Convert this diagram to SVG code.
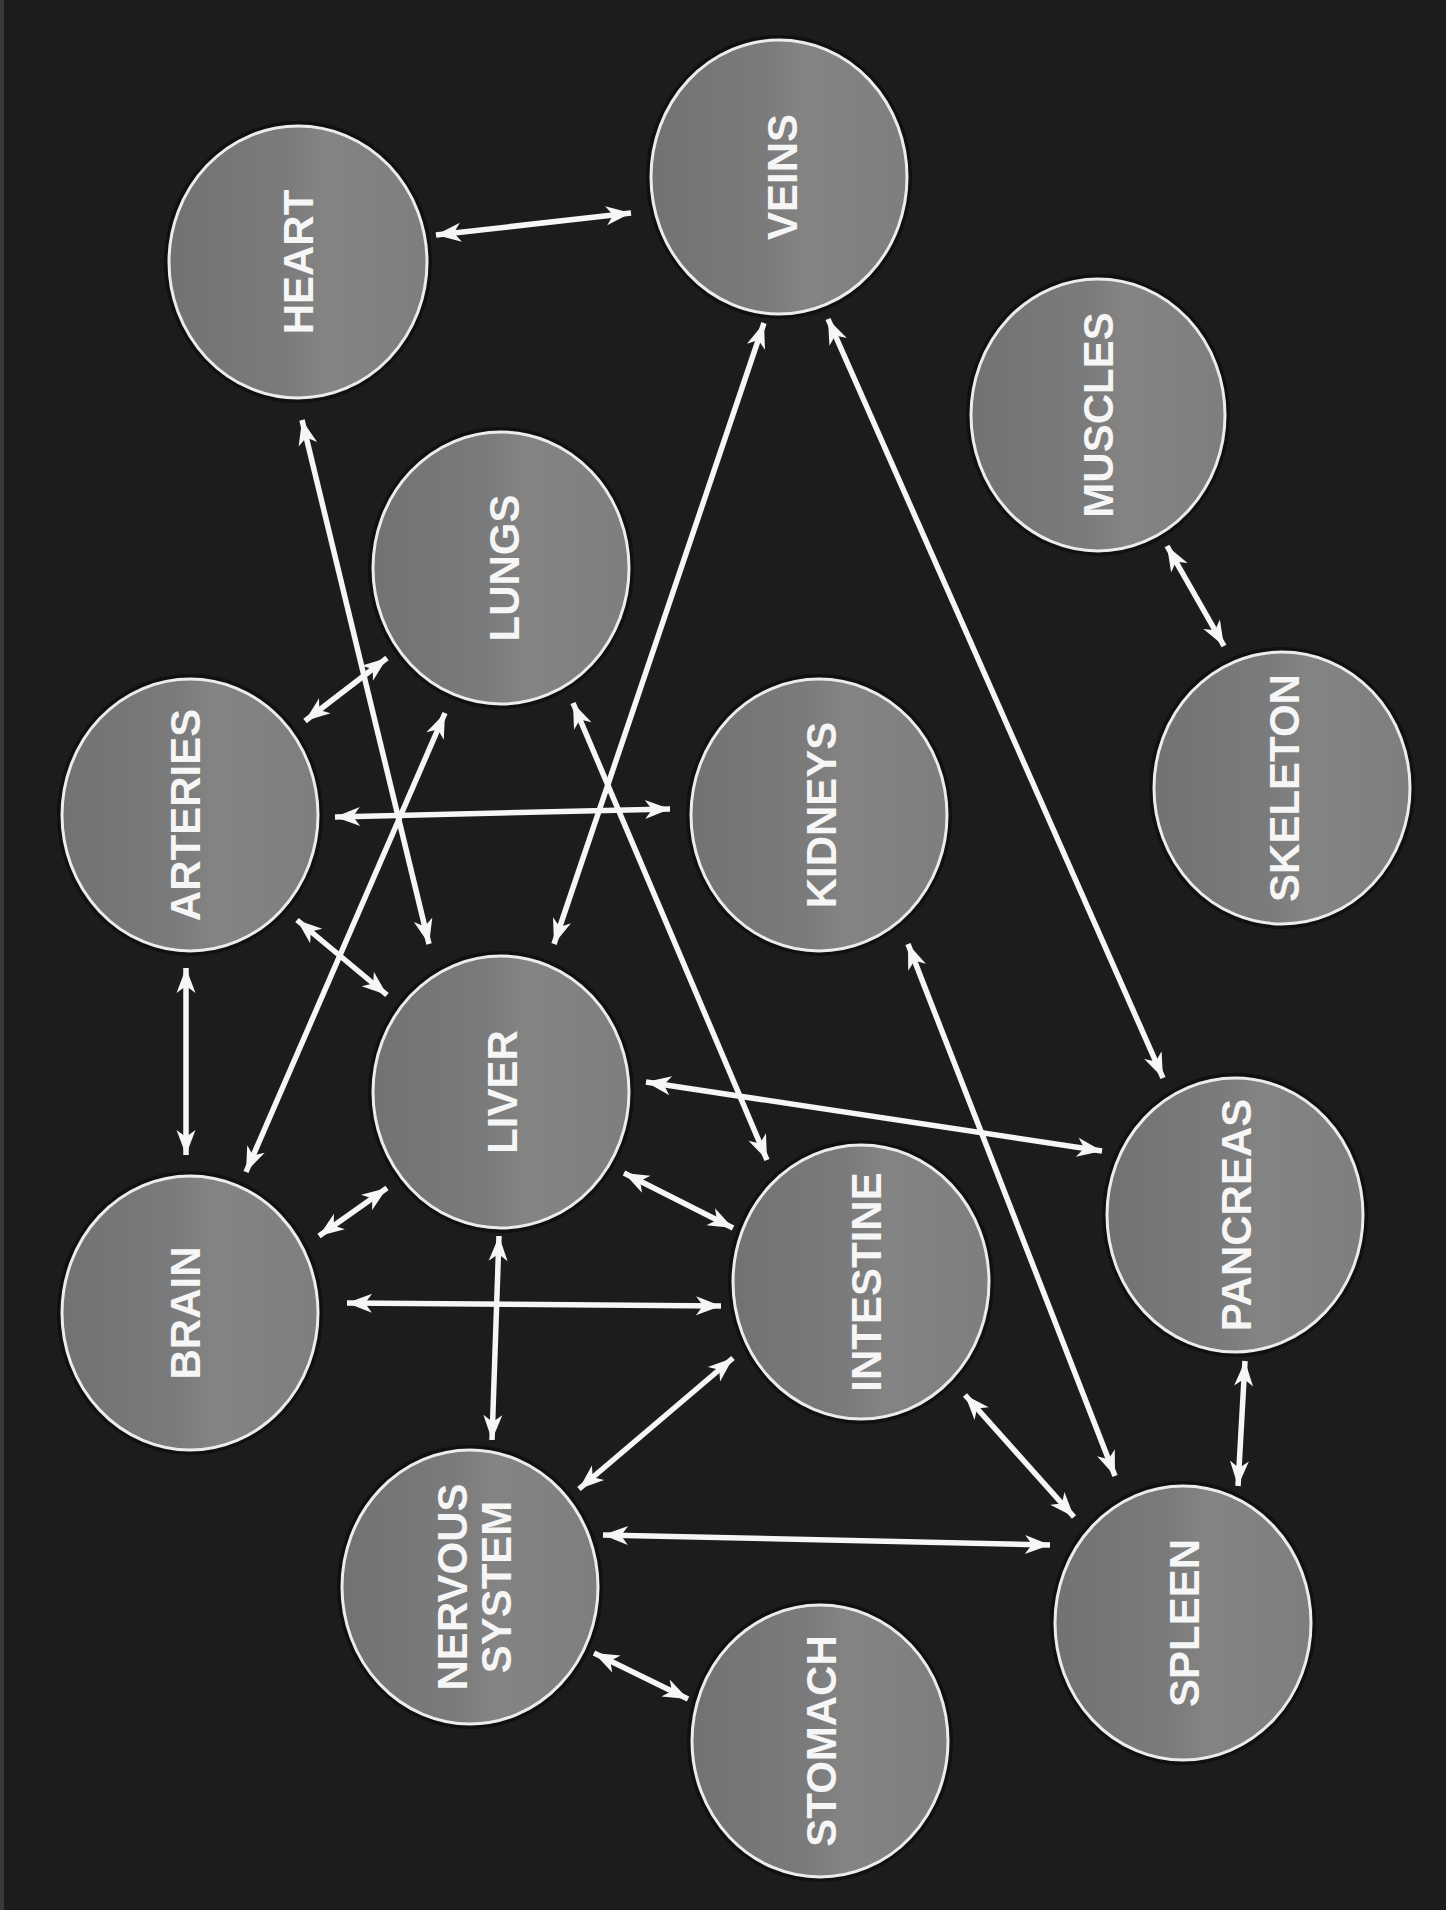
<svg xmlns="http://www.w3.org/2000/svg" width="1446" height="1910" viewBox="0 0 1446 1910">
<defs>
<linearGradient id="g" x1="0" y1="0" x2="1" y2="0">
<stop offset="0" stop-color="#727272"/>
<stop offset="0.45" stop-color="#7b7b7b"/>
<stop offset="0.6" stop-color="#848484"/>
<stop offset="1" stop-color="#7e7e7e"/>
</linearGradient>
<marker id="ah" viewBox="-26 -11 28 22" refX="0" refY="0" markerWidth="28" markerHeight="22" markerUnits="userSpaceOnUse" orient="auto-start-reverse">
<path d="M0,0 L-25,-9.5 L-18,0 L-25,9.5 Z" fill="#f6f6f6"/>
</marker>
</defs>
<style>
.halo{fill:none;stroke:#0e0e0e;stroke-width:10;opacity:0.85}
.node{fill:url(#g);stroke:#ececec;stroke-width:3}
.lbl{font-family:"Liberation Sans",Arial,sans-serif;font-weight:bold;font-size:42px;fill:#f6f6f6;text-anchor:middle}
.c{stroke:#f6f6f6;stroke-width:5.5;fill:none;marker-start:url(#ah);marker-end:url(#ah)}
</style>
<rect x="0" y="0" width="1446" height="1910" fill="#1c1c1c"/>
<rect x="0" y="0" width="4" height="1910" fill="#3a3a3a"/>

<g id="connectors">
<line class="c" x1="436" y1="235" x2="631" y2="213"/>
<line class="c" x1="302" y1="420" x2="429" y2="944"/>
<line class="c" x1="764" y1="323" x2="554" y2="944"/>
<line class="c" x1="828" y1="319" x2="1163" y2="1078"/>
<line class="c" x1="1167" y1="546" x2="1224" y2="646"/>
<line class="c" x1="305" y1="721" x2="387" y2="658"/>
<line class="c" x1="335" y1="817" x2="670" y2="809"/>
<line class="c" x1="297" y1="920" x2="387" y2="995"/>
<line class="c" x1="186" y1="968" x2="186" y2="1155"/>
<line class="c" x1="445" y1="713" x2="246" y2="1172"/>
<line class="c" x1="573" y1="703" x2="767" y2="1160"/>
<line class="c" x1="646" y1="1082" x2="1102" y2="1151"/>
<line class="c" x1="387" y1="1188" x2="319" y2="1236"/>
<line class="c" x1="624" y1="1173" x2="733" y2="1228"/>
<line class="c" x1="499" y1="1236" x2="492" y2="1440"/>
<line class="c" x1="347" y1="1303" x2="721" y2="1306"/>
<line class="c" x1="908" y1="944" x2="1115" y2="1476"/>
<line class="c" x1="733" y1="1358" x2="579" y2="1489"/>
<line class="c" x1="965" y1="1395" x2="1074" y2="1517"/>
<line class="c" x1="1245" y1="1361" x2="1238" y2="1486"/>
<line class="c" x1="603" y1="1535" x2="1050" y2="1545"/>
<line class="c" x1="594" y1="1653" x2="688" y2="1699"/>
</g>

<g id="heart"><ellipse class="halo" cx="298" cy="262" rx="129" ry="136"/><ellipse class="node" cx="298" cy="262" rx="129" ry="136"/><text class="lbl" transform="translate(313,262) rotate(-90)">HEART</text></g>
<g id="veins"><ellipse class="halo" cx="779" cy="177" rx="128" ry="137"/><ellipse class="node" cx="779" cy="177" rx="128" ry="137"/><text class="lbl" transform="translate(797,177) rotate(-90)">VEINS</text></g>
<g id="lungs"><ellipse class="halo" cx="501" cy="568" rx="128" ry="136"/><ellipse class="node" cx="501" cy="568" rx="128" ry="136"/><text class="lbl" transform="translate(519,568) rotate(-90)">LUNGS</text></g>
<g id="muscles"><ellipse class="halo" cx="1098" cy="415" rx="127" ry="136"/><ellipse class="node" cx="1098" cy="415" rx="127" ry="136"/><text class="lbl" transform="translate(1113,415) rotate(-90)">MUSCLES</text></g>
<g id="arteries"><ellipse class="halo" cx="190" cy="815" rx="128" ry="136"/><ellipse class="node" cx="190" cy="815" rx="128" ry="136"/><text class="lbl" transform="translate(200,815) rotate(-90)">ARTERIES</text></g>
<g id="kidneys"><ellipse class="halo" cx="819" cy="815" rx="128" ry="136"/><ellipse class="node" cx="819" cy="815" rx="128" ry="136"/><text class="lbl" transform="translate(836,815) rotate(-90)">KIDNEYS</text></g>
<g id="skeleton"><ellipse class="halo" cx="1282" cy="788" rx="128" ry="136"/><ellipse class="node" cx="1282" cy="788" rx="128" ry="136"/><text class="lbl" transform="translate(1299,788) rotate(-90)">SKELETON</text></g>
<g id="liver"><ellipse class="halo" cx="501" cy="1092" rx="128" ry="136"/><ellipse class="node" cx="501" cy="1092" rx="128" ry="136"/><text class="lbl" transform="translate(517,1092) rotate(-90)">LIVER</text></g>
<g id="intestine"><ellipse class="halo" cx="861" cy="1282" rx="128" ry="137"/><ellipse class="node" cx="861" cy="1282" rx="128" ry="137"/><text class="lbl" transform="translate(881,1282) rotate(-90)">INTESTINE</text></g>
<g id="pancreas"><ellipse class="halo" cx="1235" cy="1215" rx="128" ry="137"/><ellipse class="node" cx="1235" cy="1215" rx="128" ry="137"/><text class="lbl" transform="translate(1251,1215) rotate(-90)">PANCREAS</text></g>
<g id="brain"><ellipse class="halo" cx="190" cy="1313" rx="128" ry="137"/><ellipse class="node" cx="190" cy="1313" rx="128" ry="137"/><text class="lbl" transform="translate(200,1313) rotate(-90)">BRAIN</text></g>
<g id="nervous-system"><ellipse class="halo" cx="470" cy="1587" rx="128" ry="137"/><ellipse class="node" cx="470" cy="1587" rx="128" ry="137"/><text class="lbl" transform="translate(467,1587) rotate(-90)">NERVOUS</text><text class="lbl" transform="translate(511,1587) rotate(-90)">SYSTEM</text></g>
<g id="spleen"><ellipse class="halo" cx="1183" cy="1623" rx="128" ry="137"/><ellipse class="node" cx="1183" cy="1623" rx="128" ry="137"/><text class="lbl" transform="translate(1199,1623) rotate(-90)">SPLEEN</text></g>
<g id="stomach"><ellipse class="halo" cx="820" cy="1741" rx="128" ry="136"/><ellipse class="node" cx="820" cy="1741" rx="128" ry="136"/><text class="lbl" transform="translate(836,1741) rotate(-90)">STOMACH</text></g>
</svg>
